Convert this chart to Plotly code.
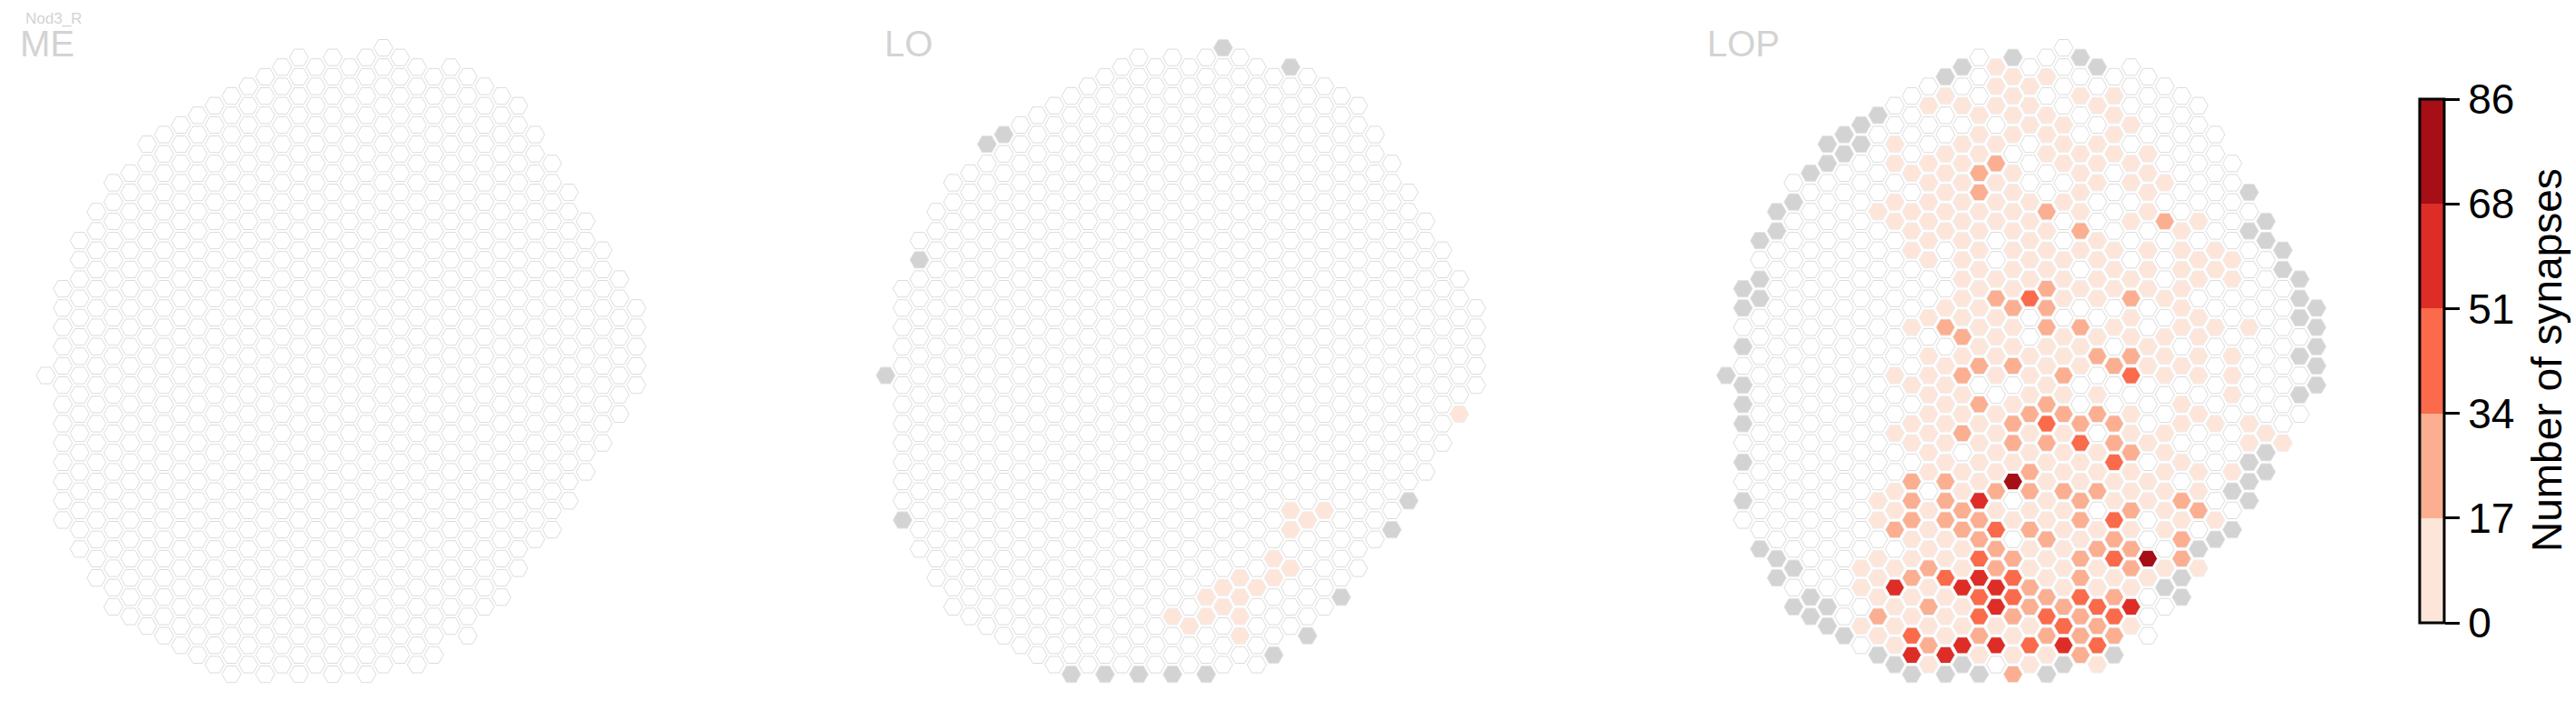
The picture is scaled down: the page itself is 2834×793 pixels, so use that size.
import plotly.graph_objects as go

W, H = 2834, 793
COL_PX = 18.56      # pixels between neighbouring hex columns
ROW_PX = 10.6       # pixels per half row
ORIGIN_Y = 413.0    # pixel height of row 0
PANEL_X0 = {"ME": 50.5, "LO": 974.4, "LOP": 1899.0}   # pixel of column 0

# Lattice extents: for column i, rows run from col_top[i] to col_bottom[i] in steps of 2
col_top = [0, -9, -14, -17, -20, -21, -24, -25, -26, -27, -28, -29, -30, -31, -32, -33, -32, -33,
           -32, -33, -34, -33, -32, -31, -32, -31, -30, -29, -28, -25, -22, -19, -16, -13, -10, -7]
col_bottom = [0, 15, 18, 21, 24, 25, 26, 27, 28, 29, 30, 31, 30, 31, 30, 31, 30, 31,
              30, 31, 30, 29, 30, 29, 26, 27, 24, 23, 20, 17, 16, 13, 10, 7, 4, 1]

BIN_VALUES = [8, 25, 42, 60, 77]   # a representative count in each colour class
BIN_COLORS = ["#fee5d9", "#fcae91", "#fb6a4a", "#de2d26", "#a50f15"]
TICK_TEXT = ["0", "17", "34", "51", "68", "86"]
CMAX = 86
MISSING_COLOR = "#d3d3d3"

lo_missing = {0: [0], 1: [15], 2: [-12], 6: [-24], 7: [-25], 11: [31], 13: [31], 15: [31], 17: [31],
              19: [31], 20: [-34], 23: [29], 24: [-32], 25: [27], 27: [23], 30: [16], 31: [13]}
lo_bin1 = {17: [25], 18: [26], 19: [23, 25], 20: [22, 24], 21: [21, 23, 25, 27], 22: [22],
           23: [19, 21], 24: [14, 16, 20], 25: [15], 26: [14], 34: [4]}

lop_missing = {0: [0], 1: [-9, -7, -3, 1, 3, 5, 9, 13], 2: [-14, -10, -8, 18], 3: [-17, -15, 19, 21],
               4: [-18, 20, 24], 5: [-21, 23, 25], 6: [-24, -22, 24, 26], 7: [-25, -23, 27],
               8: [-26, -24], 9: [-27, 29], 10: [30], 11: [31], 13: [-31, 31], 14: [-32, 30],
               15: [31], 17: [-33], 19: [31], 20: [30], 21: [-33], 22: [-32], 23: [29], 26: [22],
               27: [21, 23], 28: [18], 29: [17], 30: [12, 16], 31: [-19, -15, 9, 11, 13],
               32: [-16, -14, 8, 10], 33: [-13, -11], 34: [-10, -8, -6, -2, 2], 35: [-7, -5, -3, -1, 1]}
lop_bin1 = {
    8: [20, 22, 26],
    9: [-17, 13, 15, 19, 21, 23, 27],
    10: [-24, -22, -18, -16, 0, 6, 12, 14, 20, 24, 26, 28],
    11: [-21, -17, -15, -13, -5, 1, 5, 7, 17, 19, 23, 25],
    12: [-28, -22, -20, -18, -16, -14, -12, -6, -2, 0, 2, 4, 6, 8, 10, 14, 16, 18, 22, 26, 30],
    13: [-29, -23, -21, -19, -17, -15, -7, -1, 1, 3, 5, 7, 9, 17, 19, 23, 25, 27],
    14: [-28, -24, -22, -20, -18, -16, -14, -12, -10, -8, -6, -2, 2, 4, 10, 12, 18, 20, 24, 26],
    15: [-27, -25, -23, -17, -15, -13, -11, -9, -7, -5, -3, 5, 7, 9, 11, 29],
    16: [-32, -30, -28, -24, -20, -18, -16, -10, -6, -4, -2, 0, 4, 6, 8, 10, 14, 26],
    17: [-31, -29, -27, -25, -21, -19, -17, -15, -13, -11, -9, -5, -3, 3, 9, 15, 27, 29],
    18: [-30, -28, -26, -18, -16, -14, -12, -10, -2, 0, 2, 6, 8, 14, 18, 20, 26, 30],
    19: [-31, -27, -25, -23, -15, -13, -11, -3, -1, 1, 9, 11, 13, 15, 19, 21, 29],
    20: [-26, -24, -22, -18, -12, -10, -8, -4, -2, 2, 6, 8, 10, 14, 16, 18, 20, 22],
    21: [-29, -23, -21, -19, -17, -13, -9, -3, -1, 9, 11, 17],
    22: [-28, -24, -22, -20, -14, -12, -10, -8, -4, 2, 8, 10, 16, 20, 22, 30],
    23: [-29, -27, -25, -23, -13, -11, -9, -5, 11, 13, 21],
    24: [-26, -22, -20, -16, -10, -6, -4, 4, 6, 10, 12, 16, 22, 26],
    25: [-23, -21, -19, -17, -13, -11, -9, -3, -1, 7, 11, 13, 21],
    26: [-20, -8, -4, -2, 0, 6, 8, 10, 12, 14, 16, 20],
    27: [-15, -13, -11, -9, -7, -5, -1, 3, 5, 9, 15],
    28: [-16, -12, -10, -6, -4, -2, 0, 4, 10, 12, 20],
    29: [-13, -11, -5, 5, 15],
    30: [-12, -10, -2, 0, 2, 10],
    31: [-5, 5, 7],
    32: [6],
    33: [7],
}
lop_bin2 = {9: [25], 10: [16], 11: [11, 13, 15, 21], 12: [20, 24, 28], 13: [-5, 11, 13, 15],
            14: [-4, 0, 6, 14, 16], 15: [-21, -19, -1, 3, 15, 17, 27], 16: [-22, -8, 12, 18, 20],
            17: [-7, -1, 5, 7, 19, 25, 31], 18: [4, 10, 12, 16, 22, 24], 19: [-17, -9, -7, -5, 3, 7, 17, 23, 27],
            20: [0, 4, 12, 24], 21: [-15, -5, 5, 13, 15, 19, 21, 25, 27, 29], 22: [-2, 4, 12, 18, 26],
            23: [-1, 5, 7, 17, 23, 27], 24: [-8, -2, 8, 14, 18, 20], 26: [-16], 27: [13, 17, 19], 28: [14]}
lop_bin3 = {11: [27], 13: [21], 15: [19, 23, 25], 16: [16], 17: [21, 23], 18: [-8, 28], 19: [5, 25],
            20: [26], 21: [7, 23], 22: [24, 28], 23: [9, 15, 19, 25], 24: [0]}
lop_bin4 = {10: [22], 11: [29], 13: [29], 14: [22, 28], 15: [13, 21], 16: [22, 24, 28], 20: [28], 24: [24]}
lop_bin5 = {17: [11], 25: [19]}


def cells(table):
    return {(c, r) for c, rows in table.items() for r in rows}


def panel(name, missing=None, bins=()):
    missing = cells(missing or {})
    binned = {}
    for table, value in zip(bins, BIN_VALUES):
        for key in cells(table):
            binned[key] = value
    return name, missing, binned


panels = [
    panel("ME"),
    panel("LO", lo_missing, [lo_bin1]),
    panel("LOP", lop_missing, [lop_bin1, lop_bin2, lop_bin3, lop_bin4, lop_bin5]),
]

SIZE = 21
LINE = 1
fig = go.Figure()
R_MIN, R_MAX = -38, 35
C_MIN, C_MAX = -1.5, 36.5
layout_axes = {}
for i, (name, missing, binned) in enumerate(panels, start=1):
    sx = "" if i == 1 else str(i)
    x0 = PANEL_X0[name]
    dom_x = [(x0 + C_MIN * COL_PX) / W, (x0 + C_MAX * COL_PX) / W]
    dom_y = [1 - (ORIGIN_Y + R_MAX * ROW_PX) / H, 1 - (ORIGIN_Y + R_MIN * ROW_PX) / H]
    layout_axes["xaxis" + sx] = dict(domain=dom_x, range=[C_MIN, C_MAX], visible=False, fixedrange=True)
    layout_axes["yaxis" + sx] = dict(domain=dom_y, range=[R_MAX, R_MIN], visible=False, fixedrange=True,
                                     anchor="x" + sx)
    layout_axes["xaxis" + sx]["anchor"] = "y" + sx
    white, grey, coloured = [], [], []
    for c, (top, bot) in enumerate(zip(col_top, col_bottom)):
        for r in range(top, bot + 1, 2):
            if (c, r) in missing:
                grey.append((c, r))
            elif (c, r) in binned:
                coloured.append((c, r))
            else:
                white.append((c, r))
    common = dict(mode="markers", xaxis="x" + sx, yaxis="y" + sx, showlegend=False, hoverinfo="skip")
    fig.add_trace(go.Scatter(x=[p[0] for p in white], y=[p[1] for p in white], **common,
                             marker=dict(symbol="hexagon2", size=SIZE, color="white",
                                         line=dict(color="#dcdcdc", width=LINE))))
    if grey:
        fig.add_trace(go.Scatter(x=[p[0] for p in grey], y=[p[1] for p in grey], **common,
                                 marker=dict(symbol="hexagon2", size=SIZE, color=MISSING_COLOR,
                                             line=dict(color="#e4e4e4", width=LINE))))
    if coloured:
        fig.add_trace(go.Scatter(x=[p[0] for p in coloured], y=[p[1] for p in coloured], **common,
                                 marker=dict(symbol="hexagon2", size=SIZE, coloraxis="coloraxis",
                                             color=[binned[p] for p in coloured],
                                             line=dict(color="#efefef", width=LINE))))

n = len(BIN_COLORS)
scale = []
for k, col in enumerate(BIN_COLORS):
    scale += [[k / n, col], [(k + 1) / n, col]]


def note(text, px, py, size, color="#d3d3d3", **extra):
    return dict(text=text, x=px / W, y=1 - py / H, xref="paper", yref="paper", xanchor="left", yanchor="middle",
                showarrow=False, font=dict(size=size, color=color, family="Liberation Sans"), **extra)


colorbar_title = note("Number of synapses", 2802, 396, 46, color="black", textangle=-90)
colorbar_title["xanchor"] = "center"

fig.update_layout(
    width=W, height=H, margin=dict(l=0, r=0, t=0, b=0, autoexpand=False),
    paper_bgcolor="white", plot_bgcolor="white",
    font=dict(family="Liberation Sans", color="black"),
    coloraxis=dict(
        colorscale=scale, cmin=0, cmax=CMAX,
        colorbar=dict(
            x=2662 / W, xanchor="left", xpad=0, y=1 - 109 / H, yanchor="top", ypad=0,
            lenmode="pixels", len=576, thicknessmode="pixels", thickness=27,
            outlinewidth=3, outlinecolor="black",
            tickmode="array", tickvals=[CMAX * k / n for k in range(n + 1)], ticktext=TICK_TEXT,
            ticks="outside", ticklen=16, tickwidth=3, tickcolor="black",
            tickfont=dict(size=46, family="Liberation Sans", color="black"),
        ),
    ),
    annotations=[note("Nod3_R", 26, 21, 17), note("ME", 20, 48, 40), note("LO", 971, 48, 40),
                 note("LOP", 1876, 48, 40), colorbar_title],
    **layout_axes,
)

fig.write_html("out.html", config={"displayModeBar": False},
               post_script="document.body.style.margin='0';document.body.style.overflow='hidden';")
